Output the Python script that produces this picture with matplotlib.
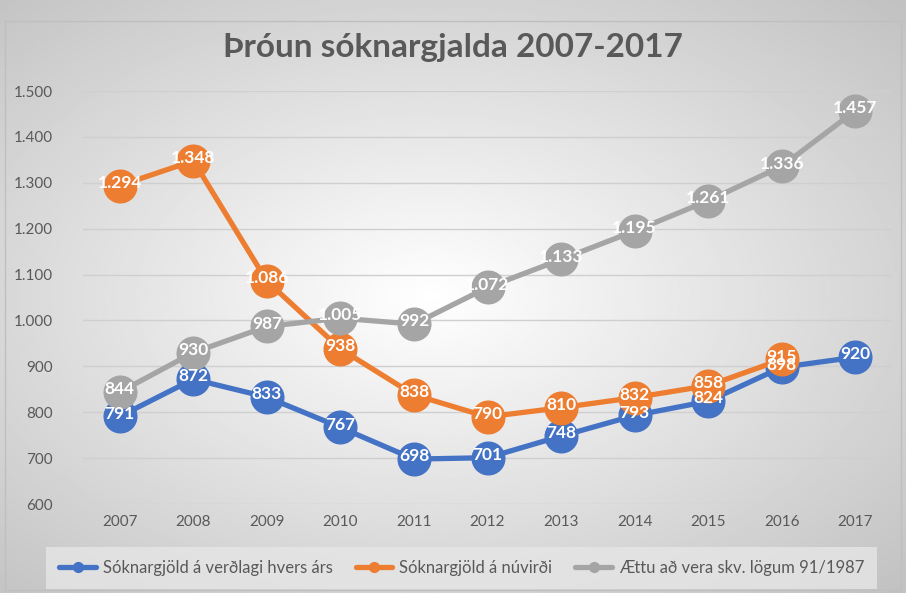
import matplotlib.pyplot as plt
import numpy as np

# Gögn
years = ['2007', '2008', '2009', '2010', '2011', '2012', '2013', '2014', '2015', '2016', '2017']
verdlag = [791, 872, 833, 767, 698, 701, 748, 793, 824, 898, 920]
nuvirdi = [1294, 1348, 1086, 938, 838, 790, 810, 832, 858, 915, None]
logum = [844, 930, 987, 1005, 992, 1072, 1133, 1195, 1261, 1336, 1457]

series = [
    ('Sóknargjöld á verðlagi hvers árs', verdlag, '#4472c4'),
    ('Sóknargjöld á núvirði', nuvirdi, '#ed7d31'),
    ('Ættu að vera skv. lögum 91/1987', logum, '#a5a5a5'),
]

plt.rcParams['font.family'] = ['Lato', 'DejaVu Sans']

fig = plt.figure(figsize=(9.06, 5.93), dpi=100)

# bakgrunnur - geislaður litastigull
bg = fig.add_axes([0, 0, 1, 1], zorder=-10)
yy, xx = np.mgrid[-1:1:300j, -1:1:450j]
r = np.sqrt(((xx + 0.05) * 0.95) ** 2 + (yy * 1.0) ** 2)
bg.imshow(1 - 0.24 * np.clip(r, 0, 1.4) / 1.4, cmap='gray', vmin=0, vmax=1,
          extent=[0, 1, 0, 1], aspect='auto')
bg.plot([0.005, 0.995, 0.995, 0.005, 0.005], [0.005, 0.005, 0.965, 0.965, 0.005],
        color='#bfbfbf', lw=1)
bg.set_xlim(0, 1)
bg.set_ylim(0, 1)
bg.axis('off')

ax = fig.add_axes([0.0916, 0.150, 0.893, 0.6965])
ax.patch.set_alpha(0)
x = np.arange(len(years))

for i, (name, vals, color) in enumerate(series):
    v = np.array([np.nan if a is None else a for a in vals], dtype=float)
    ax.plot(x, v, color=color, lw=3.8, marker='o', markersize=23.5,
            label=name, zorder=3 + i, solid_capstyle='round')

for i, (name, vals, color) in enumerate(series):
    for xi, val in zip(x, vals):
        if val is None:
            continue
        txt = f'{val:,}'.replace(',', '.')
        ax.text(xi, val + 6, txt, ha='center', va='center', color='white',
                fontsize=12.5, fontweight='bold', zorder=10)

ax.set_xlim(-0.5, len(years) - 0.5)
ax.set_ylim(600, 1500)
ax.set_yticks(range(600, 1501, 100))
ax.set_yticklabels([f'{t:,}'.replace(',', '.') for t in range(600, 1501, 100)])
ax.set_xticks(x)
ax.set_xticklabels(years)
ax.tick_params(length=0, colors='#595959', labelsize=11)
ax.tick_params(axis='y', pad=22)
ax.tick_params(axis='x', pad=8)
ax.grid(axis='y', color='#cfcfcf', lw=1)
ax.set_axisbelow(True)
for s in ax.spines.values():
    s.set_visible(False)

fig.text(0.5, 0.92, 'Þróun sóknargjalda 2007-2017', ha='center', va='center',
         fontsize=24, fontweight='bold', color='#595959')

leg = ax.legend(loc='center', bbox_to_anchor=(0.468, -0.155), ncol=3, frameon=True,
                fontsize=12, handlelength=2.2, markerscale=0.3, columnspacing=1.4,
                handletextpad=0.4, borderpad=0.5)
leg.get_frame().set_facecolor('#e6e6e6')
leg.get_frame().set_edgecolor('none')
leg.get_frame().set_boxstyle('square')
for t in leg.get_texts():
    t.set_color('#595959')

fig.savefig('out.png', dpi=100)
